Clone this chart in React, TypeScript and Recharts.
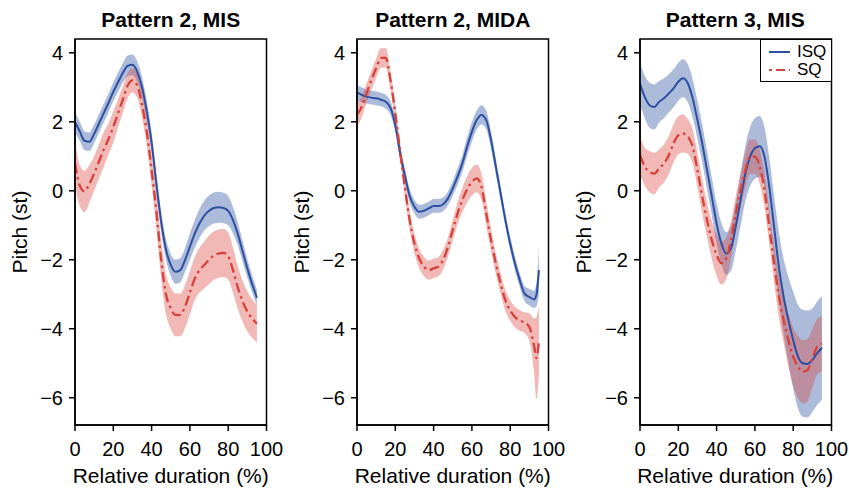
import React from 'react';
import { ComposedChart, Area, Line, XAxis, YAxis, Legend, ReferenceArea } from 'recharts';

const xs = [0, 2.5, 5, 7.5, 10, 12.5, 15, 17.5, 20, 22.5, 25, 27.5, 30, 32.5, 35, 37.5, 40, 42.5, 45, 47.5, 50, 52.5, 55, 57.5, 60, 62.5, 65, 67.5, 70, 72.5, 75, 77.5, 80, 82.5, 85, 87.5, 90, 92.5, 93.75, 95];

const p1Isq = [2.0, 1.72, 1.45, 1.42, 1.65, 1.95, 2.25, 2.55, 2.87, 3.15, 3.42, 3.62, 3.65, 3.45, 3.0, 2.3, 1.4, 0.2, -0.9, -1.7, -2.15, -2.35, -2.3, -2.0, -1.62, -1.25, -0.95, -0.72, -0.58, -0.5, -0.48, -0.5, -0.58, -0.85, -1.25, -1.75, -2.25, -2.7, -2.9, -3.1];
const p1IsqErr = [0.3, 0.28, 0.27, 0.27, 0.27, 0.27, 0.27, 0.27, 0.27, 0.28, 0.28, 0.3, 0.3, 0.3, 0.3, 0.3, 0.3, 0.3, 0.3, 0.3, 0.32, 0.35, 0.35, 0.35, 0.38, 0.4, 0.42, 0.43, 0.44, 0.45, 0.45, 0.44, 0.42, 0.38, 0.33, 0.3, 0.27, 0.25, 0.24, 0.22];
const p1Sq = [0.8, 0.15, -0.02, 0.2, 0.5, 0.85, 1.2, 1.5, 1.85, 2.25, 2.65, 3.05, 3.2, 3.05, 2.5, 1.7, 0.6, -0.6, -2.0, -3.0, -3.4, -3.6, -3.6, -3.35, -2.95, -2.55, -2.3, -2.15, -2.0, -1.88, -1.82, -1.8, -1.9, -2.3, -2.8, -3.2, -3.5, -3.7, -3.78, -3.85];
const p1SqErr = [0.65, 0.6, 0.6, 0.55, 0.5, 0.5, 0.5, 0.45, 0.45, 0.4, 0.38, 0.36, 0.35, 0.35, 0.38, 0.4, 0.45, 0.5, 0.55, 0.58, 0.6, 0.62, 0.62, 0.62, 0.62, 0.62, 0.65, 0.68, 0.7, 0.7, 0.7, 0.7, 0.68, 0.65, 0.62, 0.6, 0.58, 0.56, 0.55, 0.55];

const p2Isq = [2.85, 2.78, 2.73, 2.7, 2.68, 2.64, 2.58, 2.4, 1.9, 1.1, 0.45, -0.15, -0.46, -0.61, -0.58, -0.51, -0.44, -0.44, -0.39, -0.22, 0.07, 0.41, 0.79, 1.28, 1.71, 2.05, 2.2, 2.05, 1.47, 0.7, -0.08, -0.85, -1.53, -2.11, -2.59, -2.98, -3.08, -3.15, -3.0, -2.3];
const p2IsqErr = [0.22, 0.22, 0.2, 0.2, 0.2, 0.2, 0.2, 0.2, 0.2, 0.2, 0.2, 0.2, 0.2, 0.2, 0.2, 0.2, 0.2, 0.2, 0.2, 0.2, 0.22, 0.24, 0.25, 0.27, 0.28, 0.28, 0.28, 0.27, 0.25, 0.22, 0.2, 0.2, 0.2, 0.2, 0.2, 0.22, 0.24, 0.25, 0.35, 0.7];
const p2Sq = [2.2, 2.44, 2.83, 3.21, 3.55, 3.85, 3.85, 3.2, 2.25, 1.15, 0.1, -0.85, -1.53, -1.96, -2.2, -2.3, -2.25, -2.2, -2.0, -1.63, -1.14, -0.66, -0.27, 0.04, 0.26, 0.36, 0.12, -0.66, -1.43, -2.11, -2.69, -3.18, -3.47, -3.66, -3.76, -3.82, -3.95, -4.5, -4.85, -4.35];
const p2SqErr = [0.35, 0.3, 0.28, 0.28, 0.28, 0.28, 0.28, 0.28, 0.28, 0.28, 0.28, 0.28, 0.28, 0.28, 0.28, 0.28, 0.28, 0.28, 0.28, 0.28, 0.3, 0.32, 0.35, 0.38, 0.4, 0.4, 0.38, 0.35, 0.32, 0.3, 0.3, 0.3, 0.3, 0.3, 0.3, 0.3, 0.4, 0.8, 1.2, 1.0];

const p3Isq = [3.11, 2.72, 2.48, 2.43, 2.58, 2.68, 2.82, 2.97, 3.16, 3.26, 3.11, 2.68, 2.05, 1.37, 0.6, -0.17, -0.95, -1.53, -1.82, -1.67, -1.04, -0.27, 0.5, 0.99, 1.23, 1.29, 0.99, 0.12, -1.04, -2.2, -3.07, -3.75, -4.33, -4.81, -5.0, -5.02, -4.91, -4.71, -4.63, -4.55];
const p3IsqErr = [0.6, 0.62, 0.65, 0.65, 0.6, 0.58, 0.55, 0.55, 0.55, 0.55, 0.55, 0.55, 0.55, 0.55, 0.55, 0.55, 0.58, 0.6, 0.62, 0.65, 0.7, 0.75, 0.8, 0.85, 0.88, 0.88, 0.85, 0.85, 0.9, 1.0, 1.1, 1.25, 1.4, 1.5, 1.55, 1.55, 1.5, 1.5, 1.5, 1.5];
const p3Sq = [1.03, 0.7, 0.55, 0.5, 0.65, 0.79, 1.03, 1.37, 1.61, 1.66, 1.57, 1.28, 0.6, -0.17, -0.85, -1.43, -1.86, -2.1, -1.96, -1.43, -0.66, 0.02, 0.6, 0.99, 0.99, 0.7, 0.02, -1.04, -2.1, -3.07, -3.75, -4.33, -4.81, -5.1, -5.25, -5.2, -4.86, -4.52, -4.47, -4.43];
const p3SqErr = [0.55, 0.55, 0.6, 0.6, 0.55, 0.55, 0.55, 0.55, 0.55, 0.55, 0.5, 0.5, 0.5, 0.5, 0.5, 0.55, 0.6, 0.62, 0.6, 0.55, 0.5, 0.5, 0.5, 0.5, 0.5, 0.5, 0.5, 0.5, 0.55, 0.6, 0.65, 0.75, 0.85, 0.9, 0.92, 0.9, 0.85, 0.8, 0.8, 0.8];

const titles = ['Pattern 2, MIS', 'Pattern 2, MIDA', 'Pattern 3, MIS'];
const xTicks = [0, 20, 40, 60, 80, 100];
const yTicks = [-6, -4, -2, 0, 2, 4];
const seriesNames = ['ISQ', 'SQ'];
const xLabel = 'Relative duration (%)';
const yLabel = 'Pitch (st)';

const FONT = '"Liberation Sans", Arial, Helvetica, sans-serif';
const BLUE = '#2b4fa2';
const RED = '#d8413a';
const BLUE_BAND = '#3a5ca8';
const RED_BAND = '#d9443e';
const Y_DOMAIN: [number, number] = [-6.79, 4.4];

const plotLefts = [75, 357, 639.5];
const PLOT_W = 191.5;
const PLOT_TOP = 39;
const PLOT_BOTTOM = 425;
const LEFT_PAD = 70;
const RIGHT_PAD = 18;
const Y_AXIS_W = 40;
const X_AXIS_H = 30;

const build = (isq: number[], isqErr: number[], sq: number[], sqErr: number[]) =>
  xs.map((x, i) => ({
    x,
    isq: isq[i],
    sq: sq[i],
    isqBand: [isq[i] - isqErr[i], isq[i] + isqErr[i]],
    sqBand: [sq[i] - sqErr[i], sq[i] + sqErr[i]],
  }));

const panelData = [
  build(p1Isq, p1IsqErr, p1Sq, p1SqErr),
  build(p2Isq, p2IsqErr, p2Sq, p2SqErr),
  build(p3Isq, p3IsqErr, p3Sq, p3SqErr),
];

const fmt = (v: number) => (v < 0 ? `\u2212${Math.abs(v)}` : `${v}`);

const LegendBox = () => (
  <div
    style={{
      border: '1.5px solid #000',
      background: '#fff',
      boxSizing: 'border-box',
      width: 72,
      height: 43,
      padding: '3px 0 0 8px',
      fontFamily: FONT,
      fontSize: 17,
      lineHeight: '18px',
    }}
  >
    {seriesNames.map((name, i) => (
      <div key={name} style={{ display: 'flex', alignItems: 'center', height: 18 }}>
        <svg width={21} height={10} style={{ marginRight: 7 }}>
          <line
            x1={0}
            y1={5}
            x2={21}
            y2={5}
            stroke={i === 0 ? BLUE : RED}
            strokeWidth={2}
            strokeDasharray={i === 0 ? undefined : '3 4 9 4'}
          />
        </svg>
        <span style={{ color: '#000' }}>{name}</span>
      </div>
    ))}
  </div>
);

const Panel = ({ idx }: { idx: number }) => {
  const plotLeft = plotLefts[idx];
  const chartLeft = plotLeft - LEFT_PAD;
  const width = LEFT_PAD + PLOT_W + RIGHT_PAD;
  const height = 488;
  return (
    <div style={{ position: 'absolute', left: chartLeft, top: 0, width, height }}>
      <ComposedChart
        width={width}
        height={height}
        data={panelData[idx]}
        margin={{
          top: PLOT_TOP,
          right: RIGHT_PAD,
          bottom: height - PLOT_BOTTOM - X_AXIS_H,
          left: LEFT_PAD - Y_AXIS_W,
        }}
        style={{ overflow: 'visible' }}
      >
        <XAxis
          dataKey="x"
          type="number"
          domain={[0, 100]}
          ticks={xTicks}
          height={X_AXIS_H}
          tickSize={6}
          tickMargin={11}
          interval={0}
          allowDataOverflow
          stroke="#000"
          strokeWidth={1.5}
          tick={{ fill: '#000', fontSize: 20, fontFamily: FONT }}
        />
        <YAxis
          type="number"
          domain={Y_DOMAIN}
          ticks={yTicks}
          width={Y_AXIS_W}
          tickSize={6}
          tickMargin={6}
          interval={0}
          allowDataOverflow
          stroke="#000"
          strokeWidth={1.5}
          tickFormatter={fmt}
          tick={{ fill: '#000', fontSize: 20, fontFamily: FONT }}
        />
        <ReferenceArea
          x1={0}
          x2={100}
          y1={Y_DOMAIN[0]}
          y2={Y_DOMAIN[1]}
          fill="none"
          stroke="#000"
          strokeWidth={1.5}
          ifOverflow="visible"
        />
        <Area
          dataKey="isqBand"
          type="monotone"
          stroke="none"
          fill={BLUE_BAND}
          fillOpacity={0.42}
          isAnimationActive={false}
          legendType="none"
        />
        <Area
          dataKey="sqBand"
          type="monotone"
          stroke="none"
          fill={RED_BAND}
          fillOpacity={0.38}
          isAnimationActive={false}
          legendType="none"
        />
        <Line
          dataKey="isq"
          name="ISQ"
          type="monotone"
          stroke={BLUE}
          strokeWidth={2}
          dot={false}
          isAnimationActive={false}
        />
        <Line
          dataKey="sq"
          name="SQ"
          type="monotone"
          stroke={RED}
          strokeWidth={2.3}
          strokeDasharray="10 4 2.5 4"
          dot={false}
          isAnimationActive={false}
        />
        {idx === 2 && (
          <Legend
            layout="horizontal"
            verticalAlign="middle"
            align="center"
            content={() => <LegendBox />}
            wrapperStyle={{ left: LEFT_PAD + PLOT_W - 72 + 1, top: PLOT_TOP, width: 72, height: 43 }}
          />
        )}
      </ComposedChart>
      <div
        style={{
          position: 'absolute',
          left: LEFT_PAD - 30,
          width: PLOT_W + 60,
          top: 8,
          textAlign: 'center',
          fontFamily: FONT,
          fontWeight: 'bold',
          fontSize: 21,
          lineHeight: '24px',
          whiteSpace: 'nowrap',
          color: '#000',
        }}
      >
        {titles[idx]}
      </div>
      <div
        style={{
          position: 'absolute',
          left: LEFT_PAD - 30,
          width: PLOT_W + 60,
          top: 464,
          textAlign: 'center',
          fontFamily: FONT,
          fontSize: 21,
          lineHeight: '24px',
          whiteSpace: 'nowrap',
          color: '#000',
        }}
      >
        {xLabel}
      </div>
      <div
        style={{
          position: 'absolute',
          left: LEFT_PAD - 55.5 - 100,
          width: 200,
          top: (PLOT_TOP + PLOT_BOTTOM) / 2 - 12,
          height: 24,
          textAlign: 'center',
          fontFamily: FONT,
          fontSize: 21,
          lineHeight: '24px',
          whiteSpace: 'nowrap',
          color: '#000',
          transform: 'rotate(-90deg)',
        }}
      >
        {yLabel}
      </div>
    </div>
  );
};

export default function App() {
  return (
    <div
      style={{
        position: 'absolute',
        left: 0,
        top: 0,
        width: 849,
        height: 488,
        background: '#fff',
        overflow: 'hidden',
      }}
    >
      {[0, 1, 2].map((i) => (
        <Panel key={i} idx={i} />
      ))}
    </div>
  );
}
